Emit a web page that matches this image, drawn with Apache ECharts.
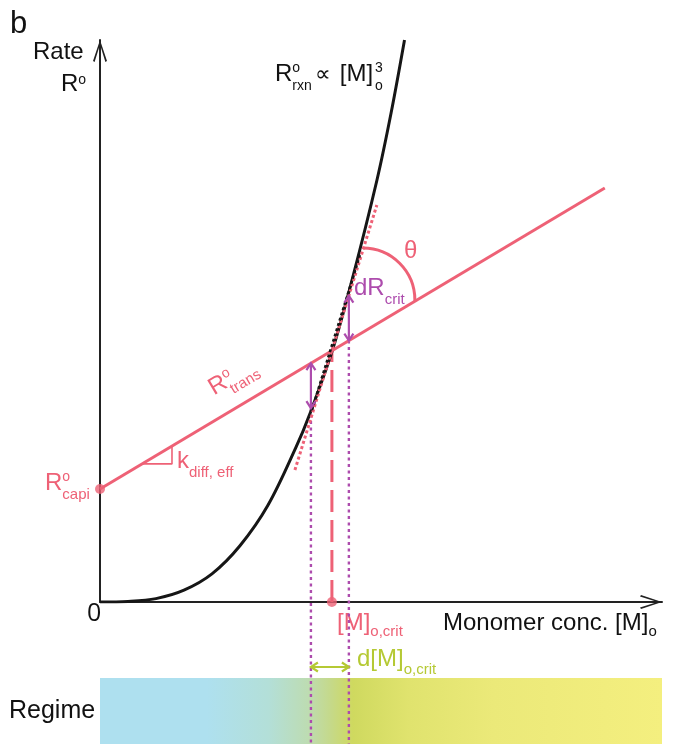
<!DOCTYPE html>
<html>
<head>
<meta charset="utf-8">
<script src="https://cdn.jsdelivr.net/npm/echarts@6/dist/echarts.min.js"></script>
<style>html,body{margin:0;padding:0;background:#fff;}#chart{width:673px;height:744px;}</style>
</head>
<body>
<div id="chart"></div>
<script>
// ---------- data ----------
const curveX = [0, 0.5, 1.0, 1.5, 2.0, 2.5, 3.0, 3.5, 3.75, 4.143, 4.5, 4.946, 5.2, 5.44];
const curveY = [0, 0.01, 0.06, 0.21, 0.5, 1.0, 1.72, 2.75, 3.35, 4.45, 5.72, 7.5, 8.7, 10.0];
const transX = [0, 9.018];
const transY = [2.011, 7.367];
const tangentRedX = [3.482, 4.946];
const tangentRedY = [2.349, 7.064];
const tangentBlackX = [3.786, 4.643];
const tangentBlackY = [3.416, 6.174];
const capi = [0, 2.011];
const mCrit = [4.143, 0];
const mCritTop = 4.472;
const leftX = 3.768, rightX = 4.446;
const leftArrow = [leftX, 4.249, leftX, 3.45];
const rightArrow = [rightX, 4.652, rightX, 5.45];
const greenArrow = [leftX, -1.157, rightX, -1.157];
const leftDotted = [[leftX, 3.45], [leftX, -2.527]];
const rightDotted = [[rightX, 4.652], [rightX, -2.527]];
const slopeTri = [[1.286, 2.775], [1.286, 2.457], [0.75, 2.457]];
const thetaCenter = [4.696, 5.374];
const regimeRect = [0, 10.04, -1.352, -2.527];
const regimeOffsets = [0, 0.19, 0.30, 0.37, 0.41, 0.45, 0.55, 0.70, 1];
const regimeColors = ['#aee0ef', '#aee0ef', '#b3dfd8', '#bddcb2', '#c5d98a', '#cfd95f', '#e0e36e', '#ebe979', '#f4ef7f'];

// ---------- styles ----------
const RED = '#ee6176', MAG = '#ad4cad', OLIVE = '#b5c934', BLACK = '#161616';
const FONT = '"Liberation Sans", Arial, sans-serif';
const ARROW = 'path://M7,0 L14,21 L12.4,22 L7,4.5 L1.6,22 L0,21 Z';

const chart = echarts.init(document.getElementById('chart'), null, {renderer: 'canvas'});
const ctx = document.createElement('canvas').getContext('2d');
function tw(t, s, fam) { ctx.font = s + 'px ' + (fam || FONT); return ctx.measureText(t).width; }

function label(x, y, color, parts, rot, fam) {
  let cx = 0, pend = 0;
  const kids = [];
  parts.forEach(p => {
    const s = p.s || 24;
    const w = tw(p.t, s, fam);
    cx += p.dx || 0;
    kids.push({type: 'text', x: cx, y: (p.dy || 0) - 0.35 * s,
      style: {text: p.t, font: s + 'px ' + (fam || FONT), fill: color, align: 'left', verticalAlign: 'middle'}});
    if (p.keep) { pend = w; } else { cx += Math.max(w, pend); pend = 0; }
  });
  return {type: 'group', x: x, y: y, rotation: rot || 0, children: kids};
}

function arrowSeries(data, color, xi, yi) {
  return {
    type: 'custom', xAxisIndex: xi, yAxisIndex: yi, z: 8,
    data: [data],
    renderItem: function (params, api) {
      const a = api.coord([api.value(0), api.value(1)]);
      const b = api.coord([api.value(2), api.value(3)]);
      const len = Math.hypot(b[0] - a[0], b[1] - a[1]);
      const d = [(b[0] - a[0]) / len, (b[1] - a[1]) / len];
      const n = [-d[1], d[0]];
      const L = 7, W = 4.5;
      function head(p, s) {
        const bx = p[0] - s * L * d[0], by = p[1] - s * L * d[1];
        return {type: 'polyline', shape: {points: [[bx + W * n[0], by + W * n[1]], [p[0], p[1]], [bx - W * n[0], by - W * n[1]]]},
          style: {stroke: color, lineWidth: 2.2, fill: null}};
      }
      return {type: 'group', children: [
        {type: 'line', shape: {x1: a[0], y1: a[1], x2: b[0], y2: b[1]}, style: {stroke: color, lineWidth: 2.2}},
        head(a, -1), head(b, 1)
      ]};
    }
  };
}

function pairs(xs, ys) { return xs.map((x, i) => [x, ys[i]]); }

const graphics = [
  label(10, 35, '#111', [{t: 'b', s: 31}]),
  label(33, 61, '#111', [{t: 'Rate', s: 24}]),
  label(61, 93, '#111', [{t: 'R', s: 24}, {t: 'o', s: 14, dy: -8}]),
  label(275, 83, '#111', [{t: 'R', s: 24}, {t: 'o', s: 14, dy: -10, keep: true}, {t: 'rxn', s: 14, dy: 8},
    {t: '\u221D', s: 22, dx: 3}, {t: '[M]', s: 24, dx: 9}, {t: '3', s: 14, dy: -10, dx: 2, keep: true}, {t: 'o', s: 14, dy: 8}]),
  label(404, 260, RED, [{t: '\u03B8', s: 24}]),
  label(354, 297, MAG, [{t: 'dR', s: 24}, {t: 'crit', s: 15, dy: 8}]),
  label(215, 397, RED, [{t: 'R', s: 24}, {t: 'o', s: 14, dy: -10, keep: true}, {t: 'trans', s: 15, dy: 8}], 0.537),
  label(177, 470, RED, [{t: 'k', s: 24}, {t: 'diff, eff', s: 15, dy: 8}]),
  label(45, 492, RED, [{t: 'R', s: 24}, {t: 'o', s: 14, dy: -10, keep: true}, {t: 'capi', s: 15, dy: 8}]),
  label(87, 623, '#111', [{t: '0', s: 25}], 0, '"Open Sans", sans-serif'),
  label(337, 632, RED, [{t: '[M]', s: 24}, {t: 'o,crit', s: 15, dy: 5}]),
  label(443, 632, '#111', [{t: 'Monomer conc. [M]', s: 24}, {t: 'o', s: 15, dy: 5}]),
  label(357, 668, OLIVE, [{t: 'd[M]', s: 24}, {t: 'o,crit', s: 15, dy: 7}]),
  label(9, 720, '#111', [{t: 'Regime', s: 25}])
];

const noAxis = {axisTick: {show: false}, axisLabel: {show: false}, splitLine: {show: false}};

const option = {
  animation: false,
  backgroundColor: '#fff',
  grid: [
    {left: 100, right: 11, top: 40, bottom: 142},
    {left: 100, right: 11, top: 40, bottom: 0}
  ],
  xAxis: [
    Object.assign({type: 'value', gridIndex: 0, min: 0, max: 10.04,
      axisLine: {show: true, onZero: false, symbol: ['none', ARROW], symbolSize: [14, 22], symbolOffset: [0, -11],
        lineStyle: {color: '#222', width: 2}}}, noAxis),
    {type: 'value', gridIndex: 1, min: 0, max: 10.04, show: false}
  ],
  yAxis: [
    Object.assign({type: 'value', gridIndex: 0, min: 0, max: 10,
      axisLine: {show: true, onZero: false, symbol: ['none', ARROW], symbolSize: [14, 22], symbolOffset: [0, -11],
        lineStyle: {color: '#222', width: 2}}}, noAxis),
    {type: 'value', gridIndex: 1, min: -2.527, max: 10, show: false}
  ],
  graphic: graphics,
  series: [
    { // regime bar
      type: 'custom', xAxisIndex: 1, yAxisIndex: 1, z: 1,
      data: [regimeRect],
      renderItem: function (params, api) {
        const p0 = api.coord([api.value(0), api.value(2)]);
        const p1 = api.coord([api.value(1), api.value(3)]);
        return {type: 'rect', shape: {x: p0[0], y: p0[1], width: p1[0] - p0[0], height: p1[1] - p0[1]},
          style: {fill: new echarts.graphic.LinearGradient(0, 0, 1, 0,
            regimeOffsets.map((o, i) => ({offset: o, color: regimeColors[i]})))}};
      }
    },
    {type: 'line', xAxisIndex: 1, yAxisIndex: 1, z: 3, data: leftDotted, symbol: 'none',
      lineStyle: {color: MAG, width: 2.4, type: [3, 3.5]}},
    {type: 'line', xAxisIndex: 1, yAxisIndex: 1, z: 3, data: rightDotted, symbol: 'none',
      lineStyle: {color: MAG, width: 2.4, type: [3, 3.5]}},
    {type: 'line', z: 4, data: [mCrit, [mCrit[0], mCritTop]], symbol: 'none',
      lineStyle: {color: RED, width: 3, type: [22, 8]}},
    {type: 'line', z: 5, data: pairs(curveX, curveY), symbol: 'none', smooth: 0.35,
      lineStyle: {color: BLACK, width: 3}},
    {type: 'line', z: 5, data: pairs(transX, transY), symbol: 'none',
      lineStyle: {color: RED, width: 3}},
    {type: 'line', z: 5, data: slopeTri, symbol: 'none',
      lineStyle: {color: RED, width: 1.6}},
    {type: 'line', z: 6, data: pairs(tangentRedX, tangentRedY), symbol: 'none',
      lineStyle: {color: RED, width: 3, type: [3, 2.5]}},
    {type: 'line', z: 7, data: pairs(tangentBlackX, tangentBlackY), symbol: 'none',
      lineStyle: {color: BLACK, width: 2.6, type: [3, 2.5]}},
    { // theta arc
      type: 'custom', z: 6, data: [thetaCenter],
      renderItem: function (params, api) {
        const c = api.coord([api.value(0), api.value(1)]);
        return {type: 'arc', shape: {cx: c[0], cy: c[1], r: 52, startAngle: -Math.PI / 2, endAngle: 0.03, clockwise: true},
          style: {stroke: RED, lineWidth: 3, fill: null}};
      }
    },
    arrowSeries(leftArrow, MAG, 0, 0),
    arrowSeries(rightArrow, MAG, 0, 0),
    arrowSeries(greenArrow, OLIVE, 1, 1),
    {type: 'scatter', z: 9, data: [capi, mCrit], symbolSize: 10, itemStyle: {color: RED}}
  ]
};
chart.setOption(option);
</script>
</body>
</html>
